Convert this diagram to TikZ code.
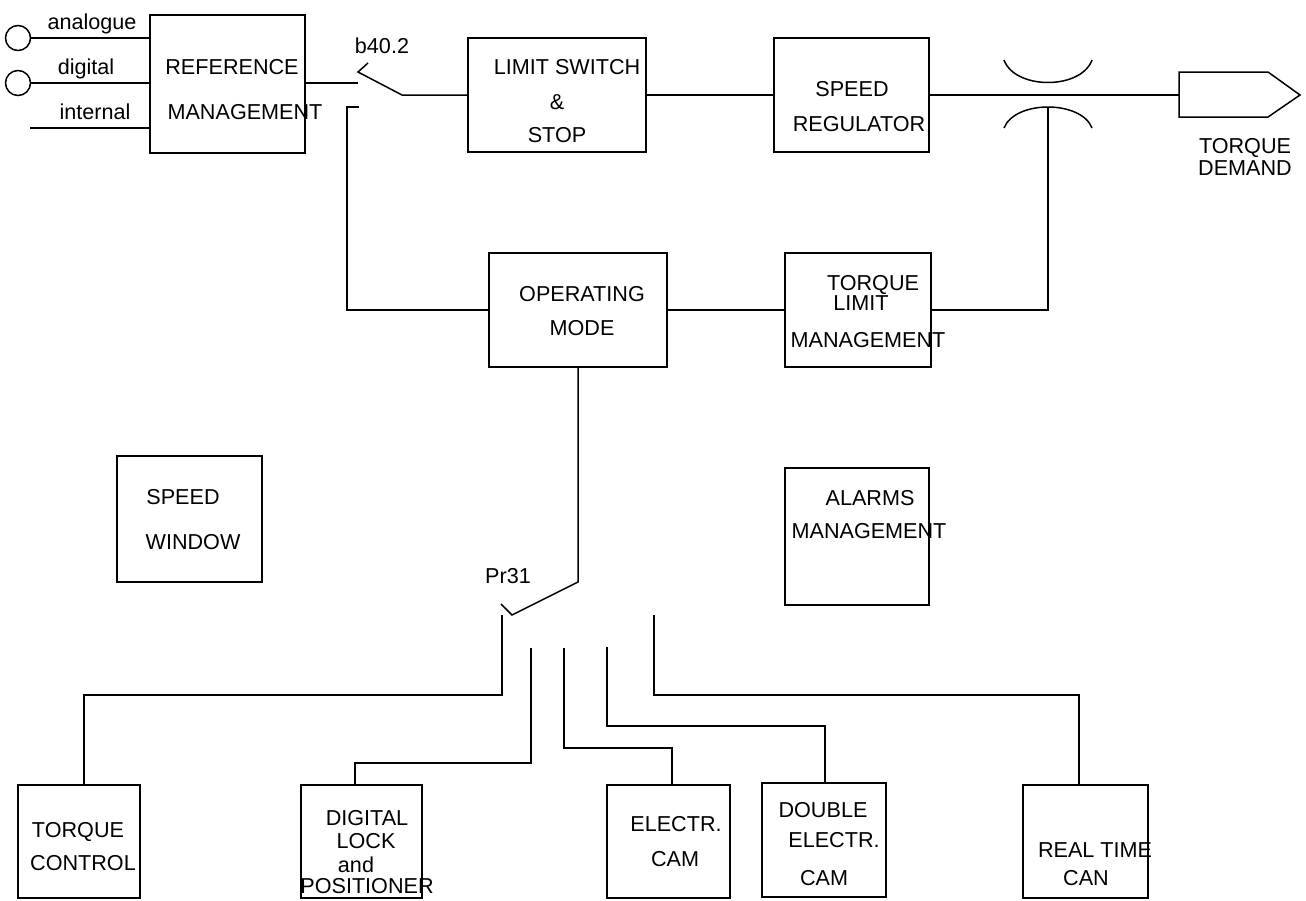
\documentclass[tikz,border=0pt]{standalone}
\usepackage{fontspec}
\setmainfont{Liberation Sans}
\usetikzlibrary{fit}
\begin{document}
\begin{tikzpicture}[x=0.5pt,y=-0.5pt, line width=0.75pt,
  box/.style={draw, inner sep=0pt},
  lbl/.style={anchor=base, inner sep=0pt, font=\fontsize{10.8}{12}\selectfont},
  term/.style={draw, circle, inner sep=0pt, minimum size=12.5pt}]
\useasboundingbox (0,0) rectangle (1306,900);

% ---------- boxes ----------
\node[box, fit={(150,15) (305,153)}] (ref) {};
\node[box, fit={(468,38) (646,152)}] (ls) {};
\node[box, fit={(774,38) (929,152)}] (sr) {};
\node[box, fit={(489,253) (667,367)}] (om) {};
\node[box, fit={(785,253) (931,367)}] (tl) {};
\node[box, fit={(117,456) (262,582)}] (sw) {};
\node[box, fit={(785,468) (929,605)}] (al) {};
\node[box, fit={(18,785) (140,898)}] (tc) {};
\node[box, fit={(301,785) (422,898)}] (dl) {};
\node[box, fit={(607,785) (730,898)}] (ec) {};
\node[box, fit={(762,783) (886,897)}] (dc) {};
\node[box, fit={(1023,785) (1148,898)}] (rt) {};

% ---------- texts ----------
\node[lbl] (ta) at (92,29) {analogue};
\node[lbl] (tdg) at (86,74) {digital};
\node[lbl] (tin) at (95,119) {internal};
\node[lbl] (r1) at (232,74) {REFERENCE};
\node[lbl] (r2) at (245,119) {MANAGEMENT};
\node[lbl] (b40) at (382,53) {b40.2};
\node[lbl] (l1) at (567,74) {LIMIT SWITCH};
\node[lbl] (l2) at (557,109) {\&};
\node[lbl] (l3) at (557,142) {STOP};
\node[lbl] (s1) at (852,96) {SPEED};
\node[lbl] (s2) at (859,131) {REGULATOR};
\node[lbl] (d1) at (1245,153) {TORQUE};
\node[lbl] (d2) at (1245,175) {DEMAND};
\node[lbl] (o1) at (582,301) {OPERATING};
\node[lbl] (o2) at (582,335) {MODE};
\node[lbl] (q1) at (873,290) {TORQUE};
\node[lbl] (q2) at (861,310) {LIMIT};
\node[lbl] (q3) at (868,347) {MANAGEMENT};
\node[lbl] (w1) at (183,504) {SPEED};
\node[lbl] (w2) at (193,549) {WINDOW};
\node[lbl] (a1) at (870,505) {ALARMS};
\node[lbl] (a2) at (869,538) {MANAGEMENT};
\node[lbl] (pr) at (508,583) {Pr31};
\node[lbl] (c1t) at (78,837) {TORQUE};
\node[lbl] (c2t) at (83,870) {CONTROL};
\node[lbl] (g1) at (367,825) {DIGITAL};
\node[lbl] (g2) at (366,848) {LOCK};
\node[lbl] (g3) at (356,872) {and};
\node[lbl] (g4) at (367,893) {POSITIONER};
\node[lbl] (e1) at (676,831) {ELECTR.};
\node[lbl] (e2) at (675,866) {CAM};
\node[lbl] (f1) at (823,817) {DOUBLE};
\node[lbl] (f2) at (834,847) {ELECTR.};
\node[lbl] (f3) at (824,885) {CAM};
\node[lbl] (h1) at (1095,857) {REAL TIME};
\node[lbl] (h2) at (1086,885) {CAN};

% ---------- inputs ----------
\node[term] (ia) at (18,38) {};
\node[term] (id) at (18,83) {};
\coordinate (iin) at (30,128);
\draw (ia.east) -- (ia.east -| ref.west);
\draw (id.east) -- (id.east -| ref.west);
\draw (iin) -- (iin -| ref.west);

% ---------- b40.2 switch ----------
\coordinate (t1) at (358,83);
\coordinate (bl1) at (358,72);
\coordinate (tk1) at (368,63);
\coordinate (bl2) at (402,95);
\coordinate (t2a) at (359,107);
\coordinate (t2b) at (347,107);
\draw (ref.east |- t1) -- (t1);
\draw (tk1) -- (bl1) -- (bl2) -- (ls.west);
\draw (ls.east) -- (sr.west);
\draw (t2a) -- (t2b) |- (om.west);
\draw (om.east) -- (tl.west);

% ---------- crossover and torque demand ----------
\coordinate (xo) at (1048,107);
\coordinate (tdw) at (1179,95);
\draw (sr.east) -- (tdw);
\draw (tl.east) -| (xo);
\draw (1004,60) .. controls (1015,90) and (1081,90) .. (1092,60);
\draw (1004,128) .. controls (1015,100) and (1081,100) .. (1092,128);
\draw (tdw) -- (1179,72) -- (1268,72) -- (1300,95) -- (1268,117) -- (1179,117) -- cycle;

% ---------- Pr31 switch ----------
\coordinate (p1) at (om.south |- 0,582);
\coordinate (p2) at (512,615);
\coordinate (p3) at (501,604);
\draw (om.south) -- (p1) -- (p2) -- (p3);

\coordinate (c1) at (502,615);
\coordinate (c2) at (531,648);
\coordinate (c3) at (564,648);
\coordinate (c4) at (607,647);
\coordinate (c5) at (654,615);
\coordinate (k1) at (84,695);
\coordinate (k2) at (355,763);
\coordinate (k3) at (672,748);
\coordinate (k4) at (825,726);
\coordinate (k5) at (1079,695);
\draw (c1) |- (k1) -- (k1 |- tc.north);
\draw (c2) |- (k2) -- (k2 |- dl.north);
\draw (c3) |- (k3) -- (k3 |- ec.north);
\draw (c4) |- (k4) -- (k4 |- dc.north);
\draw (c5) |- (k5) -- (k5 |- rt.north);
\end{tikzpicture}
\end{document}
